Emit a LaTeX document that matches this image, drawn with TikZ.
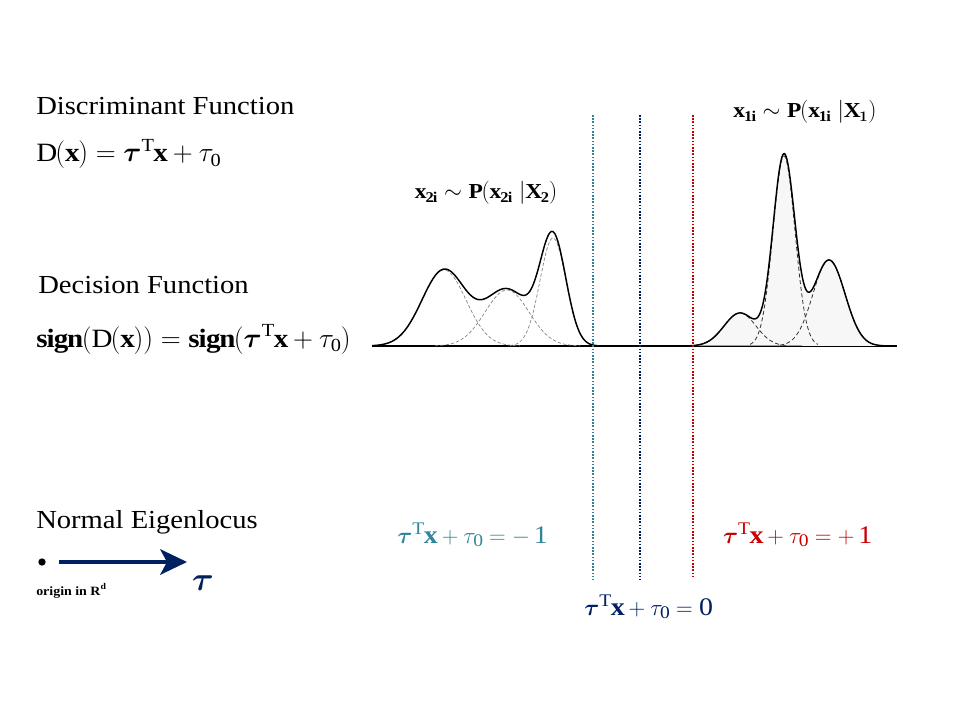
\documentclass[tikz,border=0pt]{standalone}
\usepackage{amsmath,bm}
\usepackage{fontspec}
\setmainfont{Liberation Serif}[FakeStretch=1.1]
\usetikzlibrary{arrows.meta}
\definecolor{tealc}{RGB}{49,133,155}
\definecolor{navyc}{RGB}{0,32,96}
\definecolor{redc}{RGB}{200,0,0}
\begin{document}
\begin{tikzpicture}[x=0.75pt,y=-0.75pt,
  heading/.style={anchor=base west,inner sep=0pt,font=\fontsize{19.5}{22}\selectfont},
  formula/.style={anchor=base west,inner sep=0pt,font=\fontsize{19.8}{22}\selectfont},
  eqlabel/.style={anchor=base,inner sep=0pt,font=\fontsize{19}{22}\selectfont},
  gtitle/.style={anchor=base,inner sep=0pt,font=\fontsize{16}{18}\selectfont},
  curve/.style={line width=1.1pt,black},
  compL/.style={line width=0.5pt,gray,dash pattern=on 2.5pt off 1.5pt},
  compR/.style={line width=0.6pt,black!80,dash pattern=on 3pt off 2pt},
  vline/.style={line width=1.8pt,dash pattern=on 1.2pt off 1.2pt}]
\useasboundingbox (0,0) rectangle (960,720);

% left texts
\node[heading] (dtitle) at (36,115) {Discriminant Function};
\node[formula] (dform) at (36,162) {$\mathrm{D}(\mathbf{x}) = \bm{\tau}^{\mathrm{T}}\mathbf{x} + \tau_{\mathrm{0}}$};
\node[heading] (ctitle) at (38,293) {Decision Function};
\node[formula] (cform) at (36,347) {$\mathbf{sign}(\mathrm{D}(\mathbf{x})) = \mathbf{sign}(\bm{\tau}^{\mathrm{T}}\mathbf{x} + \tau_{\mathrm{0}})$};
\node[heading] (ntitle) at (36,528) {Normal Eigenlocus};

% origin and arrow
\node[circle,fill=black,inner sep=0pt,minimum size=5.5pt] (origin) at (42,562) {};
\coordinate (tip) at (187,562);
\draw[navyc,line width=3.2pt,shorten <=10pt,-{Stealth[length=20pt,width=19pt,inset=5pt]}] (origin) -- (tip);
\node[anchor=base west,inner sep=0pt,font=\fontsize{9.5}{10}\selectfont\bfseries] (olabel) at (36,595) {origin in R\textsuperscript{d}};
\node[navyc,font=\fontsize{34}{36}\selectfont] (taulab) at (203,583) {$\bm{\tau}$};

% baseline
\draw[line width=1.2pt] (372,346) coordinate (bl) -- (897,346) coordinate (br);

% left mixture
\draw[compL] plot[domain=378:520,samples=80] (\x,{346-76*exp(-0.5*((\x-444)/22)^2)});
\draw[compL] plot[domain=435:580,samples=80] (\x,{346-56*exp(-0.5*((\x-507)/22)^2)});
\draw[compL] plot[domain=510:597,samples=60] (\x,{346-108*exp(-0.5*((\x-553)/13)^2)});
\draw[curve] plot[domain=372:597,samples=220] (\x,{346-76*exp(-0.5*((\x-444)/22)^2)-56*exp(-0.5*((\x-507)/22)^2)-108*exp(-0.5*((\x-553)/13)^2)});

% right mixture
\fill[black!3] plot[domain=693:888,samples=200] (\x,{346-33*exp(-0.5*((\x-740)/16)^2)-190*exp(-0.5*((\x-784)/11)^2)-86*exp(-0.5*((\x-829)/16)^2)}) -- cycle;
\draw[compR] plot[domain=693:788,samples=60] (\x,{346-33*exp(-0.5*((\x-740)/16)^2)});
\draw[compR] plot[domain=750:818,samples=90] (\x,{346-190*exp(-0.5*((\x-784)/11)^2)});
\draw[compR] plot[domain=780:880,samples=70] (\x,{346-86*exp(-0.5*((\x-829)/16)^2)});
\draw[curve] plot[domain=690:895,samples=240] (\x,{346-33*exp(-0.5*((\x-740)/16)^2)-190*exp(-0.5*((\x-784)/11)^2)-86*exp(-0.5*((\x-829)/16)^2)});

% titles of mixtures
\node[gtitle] (t2) at (486,199) {$\mathbf{x}_{\mathbf{2i}} \sim \mathbf{P}(\mathbf{x}_{\mathbf{2i}}\;|\mathbf{X}_{\mathbf{2}})$};
\node[gtitle] (t1) at (805,118) {$\mathbf{x}_{\mathbf{1i}} \sim \mathbf{P}(\mathbf{x}_{\mathbf{1i}}\;|\mathbf{X}_{\boldsymbol{1}})$};

% vertical dotted lines
\draw[vline,tealc] (593,115) coordinate (ta) -- (593,580) coordinate (tb);
\draw[vline,navyc] (640,115) coordinate (na) -- (640,580) coordinate (nb);
\draw[vline,redc] (693,115) coordinate (ra) -- (693,578) coordinate (rb);

% equation labels
\node[eqlabel,tealc] (lm) at (472,543) {$\bm{\tau}^{\mathrm{T}}\mathbf{x} + \tau_{\mathrm{0}} = -\,\mathrm{1}$};
\node[eqlabel,redc] (lp) at (797,543) {$\bm{\tau}^{\mathrm{T}}\mathbf{x} + \tau_{\mathrm{0}} = +\,\mathrm{1}$};
\node[eqlabel,navyc] (lz) at (648,615) {$\bm{\tau}^{\mathrm{T}}\mathbf{x} + \tau_{\mathrm{0}} = \mathrm{0}$};
\end{tikzpicture}
\end{document}
